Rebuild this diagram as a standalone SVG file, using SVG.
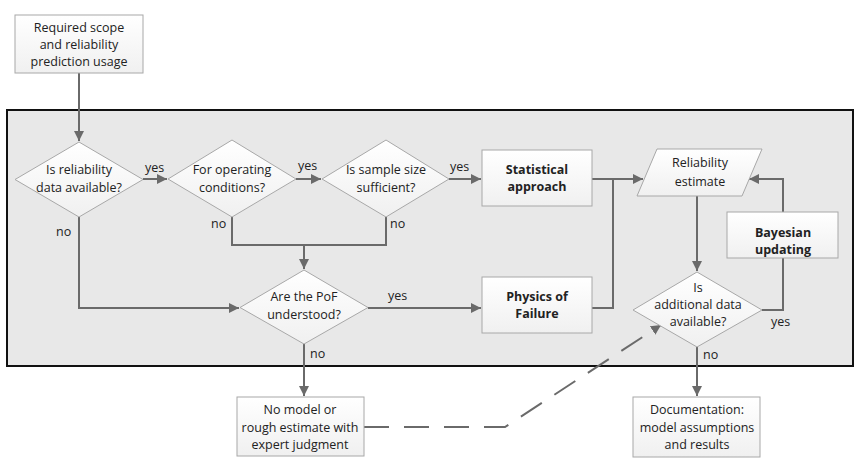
<svg xmlns="http://www.w3.org/2000/svg" width="861" height="466" viewBox="0 0 861 466">
<defs>
<linearGradient id="g" x1="0" y1="0" x2="0" y2="1"><stop offset="0" stop-color="#ffffff"/><stop offset="1" stop-color="#f0f0f0"/></linearGradient>
<marker id="ah" viewBox="0 0 10 10" refX="10" refY="5" markerWidth="10" markerHeight="10" markerUnits="userSpaceOnUse" orient="auto"><path d="M0,0 L10,5 L0,10 z" fill="#6a6a6a"/></marker>
<style>
text{font-family:"Open Sans","Liberation Sans",sans-serif;font-size:12.5px;fill:#222;text-anchor:middle}
.b{font-weight:bold}
.lbl{text-anchor:start}
.node{fill:url(#g);stroke:#a8a8a8;stroke-width:1}
.c{fill:none;stroke:#6a6a6a;stroke-width:2}
.a{marker-end:url(#ah)}
.d{stroke-dasharray:25,15}
</style>
</defs>
<rect id="frame" x="7" y="110" width="846" height="256" fill="#e8e8e8" stroke="#111" stroke-width="2"/>
<g id="connectors">
<path class="c a" d="M79,73 V141"/>
<path class="c a" d="M143,179 H167"/>
<path class="c a" d="M296,179 H321"/>
<path class="c a" d="M449,179 H481"/>
<path class="c a" d="M79,217 V308 H239"/>
<path class="c" d="M232,217 V245 H386 V217"/>
<path class="c a" d="M304,245 V269"/>
<path class="c a" d="M368,308 H481"/>
<path class="c a" d="M592,179 H643"/>
<path class="c" d="M592,308 H613 V179"/>
<path class="c a" d="M697,196 V271"/>
<path class="c" d="M762,310 H783 V258"/>
<path class="c a" d="M783,212 V179 H749"/>
<path class="c a" d="M304,344 V396"/>
<path class="c a" d="M697,347 V396"/>
<path class="c a d" d="M364,427 H505 L661,325"/>
</g>
<g id="labels">
<text class="lbl" x="145" y="172">yes</text>
<text class="lbl" x="298" y="170">yes</text>
<text class="lbl" x="450" y="171">yes</text>
<text class="lbl" x="56" y="236">no</text>
<text class="lbl" x="211" y="228">no</text>
<text class="lbl" x="390" y="228">no</text>
<text class="lbl" x="388" y="300">yes</text>
<text class="lbl" x="310" y="358">no</text>
<text class="lbl" x="771" y="326">yes</text>
<text class="lbl" x="703" y="359">no</text>
</g>
<g id="n-scope">
<rect class="node" x="15" y="15" width="128" height="58"/>
<text x="79" y="32">Required scope</text>
<text x="79" y="49">and reliability</text>
<text x="79" y="66">prediction usage</text>
</g>
<g id="n-data">
<polygon class="node" points="79,142 143,179.5 79,217 15,179.5"/>
<text x="79" y="174">Is reliability</text>
<text x="79" y="192">data available?</text>
</g>
<g id="n-oper">
<polygon class="node" points="232,140 296,179 232,217 168,179"/>
<text x="232" y="174">For operating</text>
<text x="232" y="192">conditions?</text>
</g>
<g id="n-sample">
<polygon class="node" points="386,140 449,179 386,217 322,179"/>
<text x="386" y="174">Is sample size</text>
<text x="386" y="192">sufficient?</text>
</g>
<g id="n-stat">
<rect class="node" x="482" y="150" width="110" height="56"/>
<text class="b" x="537" y="174">Statistical</text>
<text class="b" x="537" y="191">approach</text>
</g>
<g id="n-pof">
<polygon class="node" points="304,270 368,307.5 304,344 240,307.5"/>
<text x="304" y="301">Are the PoF</text>
<text x="304" y="319">understood?</text>
</g>
<g id="n-physics">
<rect class="node" x="482" y="277" width="110" height="56"/>
<text class="b" x="537" y="301">Physics of</text>
<text class="b" x="537" y="318">Failure</text>
</g>
<g id="n-estimate">
<polygon class="node" points="657,149 762,149 742,196 637,196"/>
<text x="700" y="167">Reliability</text>
<text x="700" y="186">estimate</text>
</g>
<g id="n-bayes">
<rect class="node" x="727" y="212" width="111" height="46"/>
<text class="b" x="783" y="237">Bayesian</text>
<text class="b" x="783" y="254">updating</text>
</g>
<g id="n-additional">
<polygon class="node" points="697,272 762,310 697,347 633,310"/>
<text x="698" y="292">Is</text>
<text x="698" y="309">additional data</text>
<text x="698" y="326">available?</text>
</g>
<g id="n-nomodel">
<rect class="node" x="237" y="397" width="127" height="59"/>
<text x="300" y="414">No model or</text>
<text x="300" y="432">rough estimate with</text>
<text x="300" y="449">expert judgment</text>
</g>
<g id="n-doc">
<rect class="node" x="633" y="397" width="127" height="60"/>
<text x="697" y="414">Documentation:</text>
<text x="697" y="432">model assumptions</text>
<text x="697" y="449">and results</text>
</g>
</svg>
